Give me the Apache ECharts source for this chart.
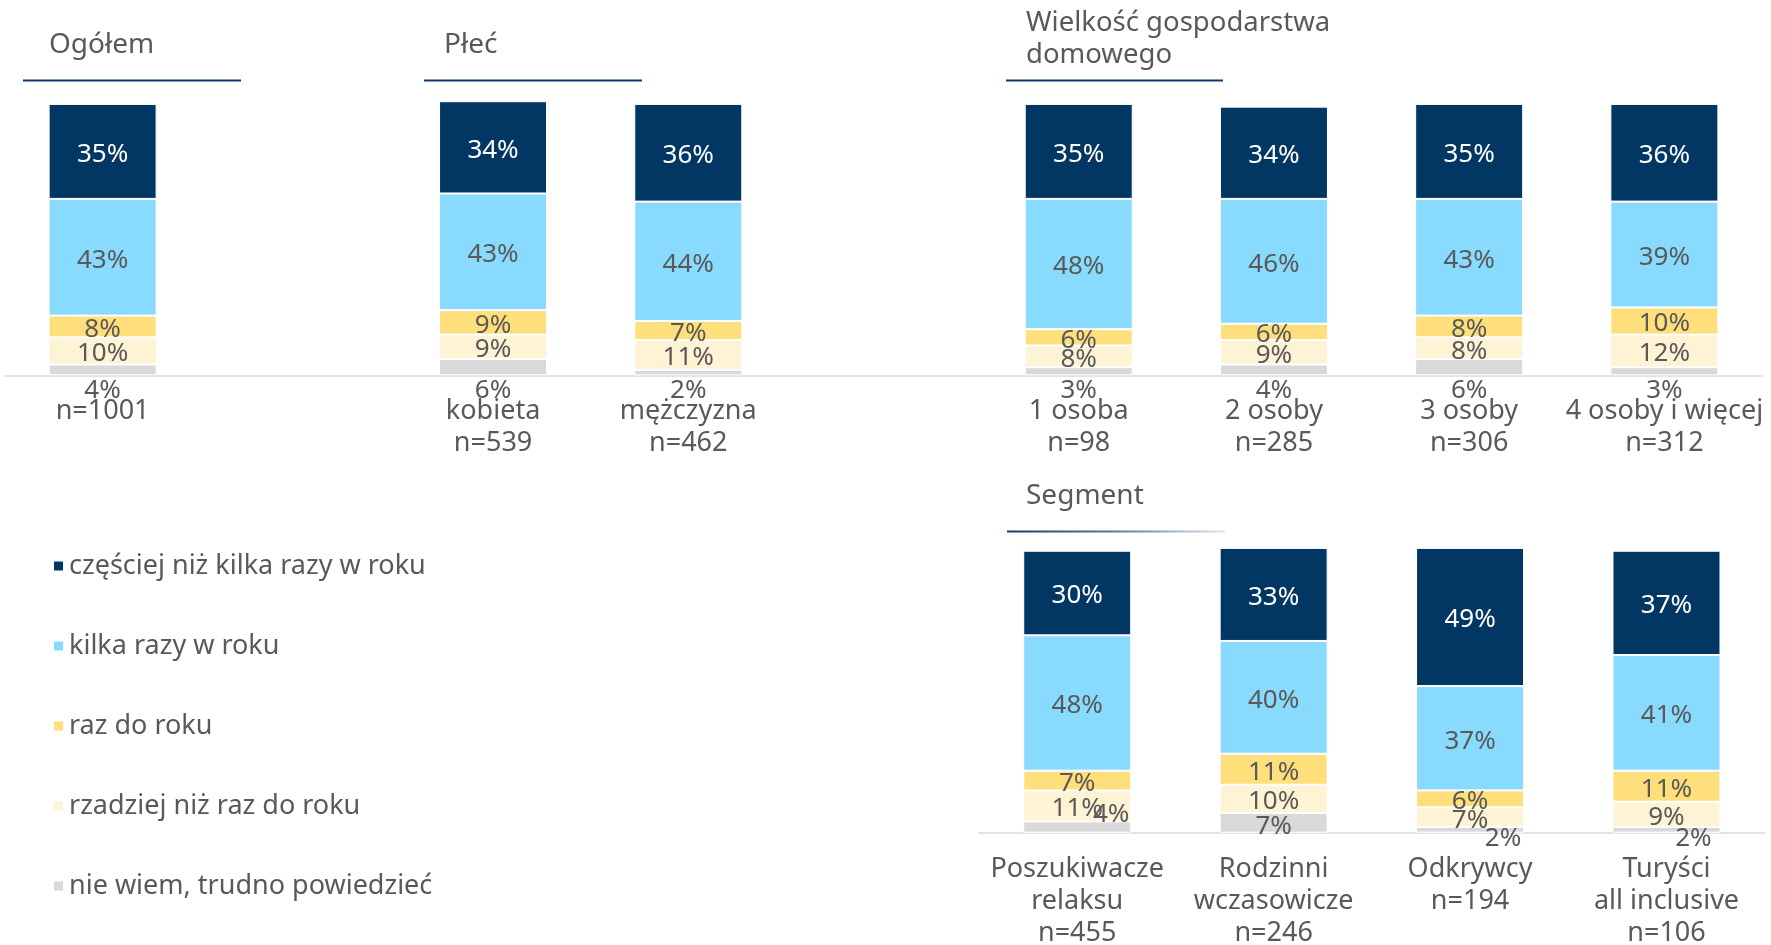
<!DOCTYPE html>
<html>
<head>
<meta charset="utf-8">
<script src="https://cdn.jsdelivr.net/npm/echarts@6/dist/echarts.min.js"></script>
<style>
  html, body { margin: 0; padding: 0; background: #fff; }
  #chart { width: 1771px; height: 945px; }
</style>
</head>
<body>
<div id="chart"></div>
<script>
// Answer categories (legend order: most frequent first)
const answerNames = [
  'częściej niż kilka razy w roku',
  'kilka razy w roku',
  'raz do roku',
  'rzadziej niż raz do roku',
  'nie wiem, trudno powiedzieć'
];

// Upper panel: total, gender, household size ('-' = spacer slot)
const topCategories = ['n=1001', '', 'kobieta\nn=539', 'mężczyzna\nn=462', '',
  '1 osoba\nn=98', '2 osoby\nn=285', '3 osoby\nn=306', '4 osoby i więcej\nn=312'];
const topMoreOften = [35, '-', 34, 36, '-', 35, 34, 35, 36];
const topFewTimes  = [43, '-', 43, 44, '-', 48, 46, 43, 39];
const topOnce      = [8,  '-', 9,  7,  '-', 6,  6,  8,  10];
const topLess      = [10, '-', 9,  11, '-', 8,  9,  8,  12];
const topDontKnow  = [4,  '-', 6,  2,  '-', 3,  4,  6,  3];

// Lower panel: segments
const segCategories = ['Poszukiwacze\nrelaksu\nn=455', 'Rodzinni\nwczasowicze\nn=246',
  'Odkrywcy\nn=194', 'Turyści\nall inclusive\nn=106'];
const segMoreOften = [30, 33, 49, 37];
const segFewTimes  = [48, 40, 37, 41];
const segOnce      = [7, 11, 6, 11];
const segLess      = [11, 10, 7, 9];
const segDontKnow  = [4, 7, 2, 2];

// Small "don't know" labels in the segment panel are nudged aside (px)
const segDontKnowShift = [[34, -15], [0, 1], [33, 6], [27, 6]];

const colors = ['#033763', '#88DBFE', '#FFDF7B', '#FFF3D5', '#D9D9D9'];
const textGray = '#595959';
const FONT = "'Noto Sans', 'DejaVu Sans', sans-serif";
const LABEL_DROP = 3; // value labels sit slightly below the segment middle

function labelCfg(idx) {
  return {
    show: true,
    position: 'inside',
    offset: [0, LABEL_DROP],
    formatter: '{c}%',
    fontFamily: FONT,
    fontSize: 26,
    color: idx === 0 ? '#ffffff' : textGray
  };
}

function buildSeries(gridIdx, values, stackName) {
  // stacking starts at the bottom: "don't know" first, most frequent last
  const order = [4, 3, 2, 1, 0];
  return order.map(function (i) {
    const s = {
      name: answerNames[i],
      type: 'bar',
      stack: stackName,
      xAxisIndex: gridIdx,
      yAxisIndex: gridIdx,
      barWidth: 108,
      clip: false,
      data: values[i],
      itemStyle: { color: colors[i], borderColor: '#ffffff', borderWidth: 1 },
      label: labelCfg(i),
      emphasis: { disabled: true }
    };
    if (i === 4) {
      if (gridIdx === 0) {
        s.label = Object.assign({}, s.label, { position: 'bottom', distance: 2, offset: [0, 0] });
      } else {
        s.label = Object.assign({}, s.label, { offset: [0, 0] });
        s.labelLayout = function (p) {
          const d = segDontKnowShift[p.dataIndex] || [0, 0];
          return { dx: d[0], dy: d[1] + LABEL_DROP };
        };
      }
    }
    return s;
  });
}

const chart = echarts.init(document.getElementById('chart'), null, { renderer: 'canvas' });

const axisLabelStyle = {
  fontFamily: FONT,
  fontSize: 27,
  color: textGray,
  lineHeight: 32,
  interval: 0
};

const option = {
  backgroundColor: '#ffffff',
  animation: false,
  color: colors,
  legend: {
    orient: 'vertical',
    left: 47,
    top: 546,
    itemWidth: 11,
    itemHeight: 11,
    itemGap: 50,
    icon: 'rect',
    data: answerNames,
    selectedMode: false,
    textStyle: { fontFamily: FONT, fontSize: 27, color: textGray, lineHeight: 30 }
  },
  grid: [
    { left: 5, right: 9, top: 101.2, bottom: 569.7, containLabel: false, outerBoundsMode: 'none' },
    { left: 979, right: 6.3, top: 547.9, bottom: 112.3, containLabel: false, outerBoundsMode: 'none' }
  ],
  xAxis: [
    {
      gridIndex: 0, type: 'category', data: topCategories,
      axisLine: { lineStyle: { color: '#D9D9D9', width: 1.5 } },
      axisTick: { show: false },
      axisLabel: Object.assign({ margin: 20 }, axisLabelStyle)
    },
    {
      gridIndex: 1, type: 'category', data: segCategories,
      axisLine: { lineStyle: { color: '#D9D9D9', width: 1.5 } },
      axisTick: { show: false },
      axisLabel: Object.assign({ margin: 21 }, axisLabelStyle)
    }
  ],
  yAxis: [
    { gridIndex: 0, type: 'value', min: 0, max: 101, show: false },
    { gridIndex: 1, type: 'value', min: 0, max: 101, show: false }
  ],
  series: [].concat(
    buildSeries(0, [topMoreOften, topFewTimes, topOnce, topLess, topDontKnow], 'top'),
    buildSeries(1, [segMoreOften, segFewTimes, segOnce, segLess, segDontKnow], 'seg')
  ),
  graphic: [
    // panel headings
    { type: 'text', left: 49, top: 31, style: { text: 'Ogółem', font: '28px ' + FONT, fill: textGray } },
    { type: 'text', left: 444, top: 31, style: { text: 'Płeć', font: '28px ' + FONT, fill: textGray } },
    { type: 'text', left: 1026, top: 7, style: { text: 'Wielkość gospodarstwa\ndomowego', font: '27.5px ' + FONT, fill: textGray, lineHeight: 32 } },
    { type: 'text', left: 1026, top: 482, style: { text: 'Segment', font: '28px ' + FONT, fill: textGray } },
    // heading underlines
    { type: 'line', shape: { x1: 23, y1: 80.5, x2: 241, y2: 80.5 }, style: { stroke: '#0F3A6B', lineWidth: 2 } },
    { type: 'line', shape: { x1: 424, y1: 80.5, x2: 642, y2: 80.5 }, style: { stroke: '#0F3A6B', lineWidth: 2 } },
    { type: 'line', shape: { x1: 1006, y1: 80.5, x2: 1223, y2: 80.5 }, style: { stroke: '#0F3A6B', lineWidth: 2 } },
    {
      type: 'line', shape: { x1: 1007, y1: 531.5, x2: 1225, y2: 531.5 },
      style: {
        lineWidth: 2,
        stroke: new echarts.graphic.LinearGradient(0, 0, 1, 0, [
          { offset: 0, color: '#0F3A6B' },
          { offset: 0.5, color: '#5A7A9E' },
          { offset: 1, color: '#E4E9EF' }
        ])
      }
    }
  ]
};

chart.setOption(option);
</script>
</body>
</html>
